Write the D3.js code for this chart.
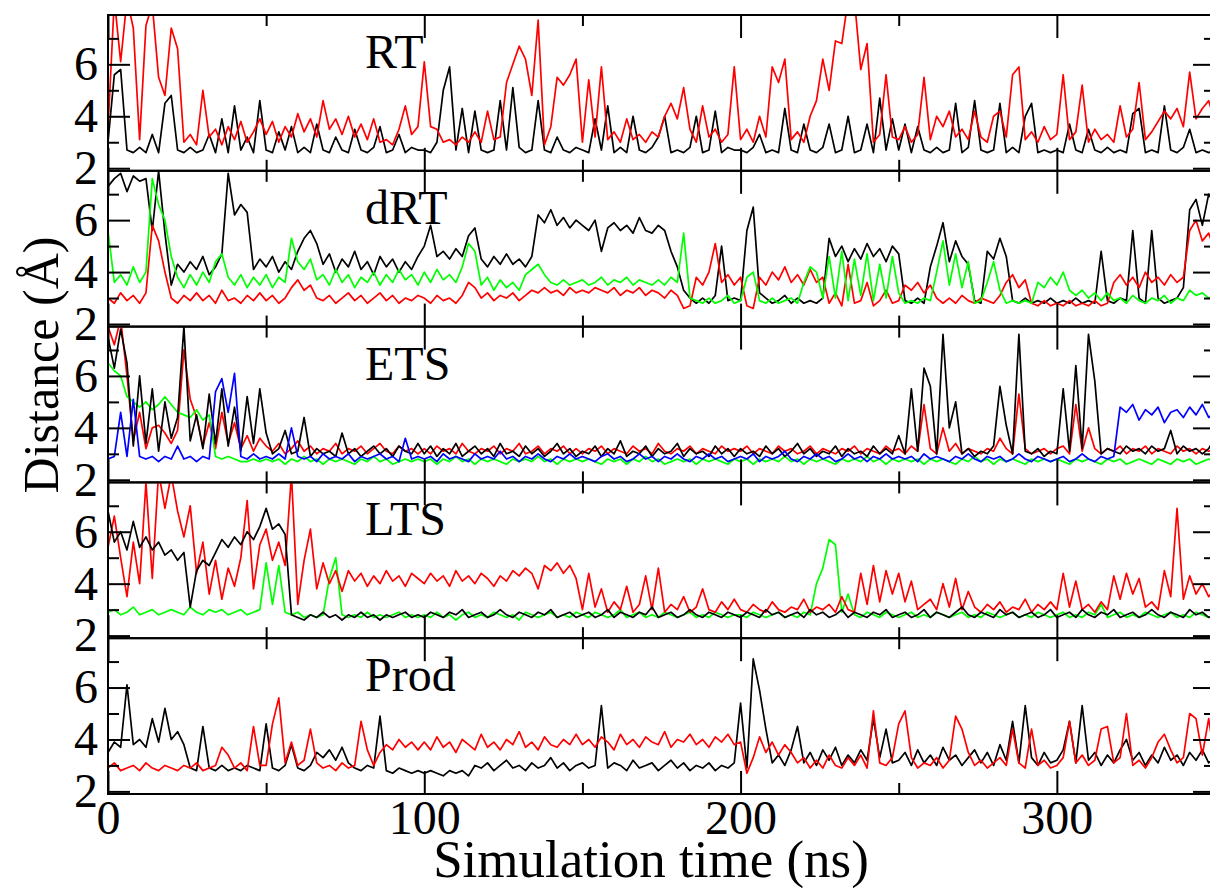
<!DOCTYPE html>
<html><head><meta charset="utf-8">
<script src="https://cdn.jsdelivr.net/npm/d3@7"></script>
<style>body{margin:0;background:#fff}svg{display:block}</style>
</head><body>
<svg id="chart" width="1210" height="892"></svg>
<script>
// sampling interval of all series (ns)
const timeStep = 2;
const xMajorTicks = [0, 100, 200, 300];
const xMinorTicks = [50, 150, 250];
const yMajorTicks = [2, 4, 6];
const yMinorTicks = [3, 5, 7];
const panelLabels = ["RT", "dRT", "ETS", "LTS", "Prod"];

const rtBlack = [3.0,5.6,5.8,2.7,2.6,2.8,2.6,3.3,2.6,4.5,4.8,2.7,2.6,2.8,2.6,2.7,3.3,2.6,3.9,2.6,4.4,2.7,3.2,2.6,4.6,
2.7,2.6,3.4,2.7,3.6,2.6,2.8,2.6,3.7,2.7,2.6,3.2,2.7,2.6,3.5,2.7,2.6,2.8,3.6,2.6,2.7,3.3,2.6,2.8,2.7,
2.7,2.6,3.0,5.0,5.9,2.7,4.3,2.6,4.2,2.7,2.6,2.7,4.6,2.7,5.1,2.8,2.6,2.7,4.6,2.7,2.6,3.2,2.7,2.6,2.8,
2.7,2.6,3.9,2.7,4.4,2.6,2.8,2.6,4.0,2.7,2.6,2.8,3.2,4.0,2.6,2.7,2.6,2.8,4.0,2.6,2.7,4.2,2.6,2.8,2.7,
2.7,2.6,2.8,3.3,2.6,2.7,2.6,4.3,2.7,2.6,3.7,2.7,2.6,2.8,3.7,2.6,2.7,4.0,2.6,2.7,3.7,2.6,4.7,2.7,3.9,
2.7,3.7,2.6,3.6,2.7,2.6,2.8,2.6,2.7,4.5,2.6,2.8,4.6,2.7,2.6,2.7,4.5,2.6,2.8,2.6,4.0,4.5,2.6,2.7,2.6,
2.7,2.6,3.7,2.7,2.6,3.5,2.7,2.6,2.8,2.6,2.7,2.6,4.1,4.3,2.6,2.7,2.6,4.4,2.7,2.6,2.8,3.5,2.6,2.7,2.6,2.7];
const rtRed = [3.5,8.5,6.1,8.5,7.4,3.1,7.5,8.3,5.5,4.8,7.4,6.6,3.0,3.3,2.9,5.0,3.2,3.5,2.9,3.6,3.1,3.8,3.0,3.4,3.9,
3.3,3.8,3.0,3.6,3.2,4.1,3.4,3.9,3.2,4.6,3.5,3.9,3.3,4.0,3.2,3.7,3.1,3.9,3.0,3.1,2.9,3.5,4.4,3.3,3.6,
6.1,3.6,3.5,3.0,3.1,2.9,3.2,3.0,3.4,3.0,4.2,3.1,3.2,5.3,6.0,6.7,6.2,4.8,7.7,2.9,3.6,5.5,5.2,5.6,6.2,
3.0,5.4,3.2,5.9,3.1,3.4,3.0,3.9,3.1,3.3,3.0,3.4,3.2,4.0,4.5,3.9,5.1,3.5,3.0,4.4,3.2,3.5,3.0,3.3,5.9,
3.1,3.5,3.0,4.0,3.2,5.9,5.3,6.2,3.1,3.4,3.0,4.0,4.6,6.2,5.0,6.9,6.8,8.5,8.5,5.8,6.8,3.0,3.3,5.6,3.2,
3.1,3.6,3.0,3.3,5.5,3.1,4.0,3.6,4.2,3.2,3.5,3.1,4.2,3.2,3.0,4.0,4.2,3.2,5.6,5.9,3.1,3.4,3.0,3.6,3.1,
3.3,5.6,3.1,3.4,5.2,3.0,3.5,3.1,3.3,3.0,4.4,3.2,3.5,5.3,3.1,3.4,3.8,4.2,3.9,4.3,3.6,5.7,3.9,4.3,4.6,3.8];

const drtBlack = [7.3,7.6,7.8,7.1,7.7,7.5,7.6,5.6,7.9,5.5,3.5,4.3,4.0,4.4,4.1,4.6,3.9,4.2,4.7,7.8,6.2,6.6,6.3,4.1,4.5,
4.2,4.6,4.0,4.4,4.1,4.8,5.3,5.6,5.1,4.3,4.7,4.0,4.5,4.2,4.8,4.1,4.4,3.9,4.6,4.2,4.5,4.0,4.4,4.1,4.6,
5.0,5.8,4.6,4.8,4.5,4.9,4.6,5.4,5.7,4.5,4.2,4.6,4.3,4.7,4.3,4.5,4.2,4.6,6.2,5.9,6.4,5.8,6.1,5.7,6.0,
5.8,5.6,6.0,4.8,5.7,5.9,5.6,5.8,5.5,6.1,5.6,5.5,5.8,5.6,4.8,4.2,3.3,3.0,2.8,3.0,2.8,3.1,5.0,2.9,3.0,
2.9,5.6,6.5,3.2,3.0,2.8,2.9,3.1,2.8,3.0,2.8,2.9,2.8,3.0,5.3,4.6,5.0,4.4,4.9,4.5,5.1,4.6,4.9,4.4,5.0,
4.7,2.9,2.8,3.0,2.8,4.2,5.0,5.9,4.4,5.2,4.6,4.3,2.9,2.8,4.8,4.5,5.3,4.6,2.9,2.8,3.0,2.8,2.9,2.8,3.0,
2.8,2.9,2.8,3.0,2.8,2.9,2.8,4.8,2.9,2.8,3.0,2.9,5.6,3.0,2.8,5.6,3.0,2.8,2.9,3.0,3.4,6.4,6.8,5.8,7.0,6.6];
const drtRed = [3.0,2.8,3.2,2.9,3.1,2.8,3.2,5.8,5.2,4.0,3.0,2.8,3.1,2.9,3.2,2.9,3.1,2.8,3.3,2.9,3.0,2.8,3.1,2.9,3.2,
2.9,3.1,2.8,3.0,3.4,3.7,3.3,3.5,3.0,2.9,3.1,2.8,3.0,3.2,2.9,3.1,2.8,3.0,3.2,2.9,3.1,2.8,3.0,2.9,3.1,
3.0,2.8,3.1,2.9,3.0,2.8,3.1,3.6,3.4,3.0,3.2,2.9,3.1,3.0,3.2,2.9,3.1,3.3,3.2,3.4,3.2,3.3,3.1,3.4,3.2,
3.3,3.2,3.4,3.3,3.2,3.4,3.1,3.3,3.2,3.4,3.1,3.3,3.2,3.0,3.3,3.1,2.6,2.7,3.8,3.5,4.0,5.1,3.6,3.9,3.5,
3.8,2.7,2.6,3.8,3.5,4.0,3.7,4.2,3.6,3.9,3.5,4.1,3.6,3.8,2.8,3.2,2.7,4.3,2.8,2.9,3.6,2.7,2.9,3.3,2.8,
2.9,3.5,3.3,3.6,3.2,3.5,3.0,2.8,3.0,2.8,3.1,2.9,2.8,3.0,2.9,2.8,3.1,3.6,3.9,3.4,3.7,2.8,2.7,2.9,2.7,
2.8,2.7,2.9,2.7,2.8,2.7,2.9,2.7,2.8,3.6,3.9,3.5,3.8,3.4,4.0,3.6,3.8,3.5,3.9,3.6,3.8,5.6,6.0,5.2,5.5,4.8];
const drtGreen = [5.6,3.6,3.9,3.5,4.2,3.6,4.0,7.6,6.6,6.0,4.6,3.8,3.4,3.9,3.5,4.0,3.6,4.4,4.7,3.8,3.5,3.9,3.4,3.8,3.5,
3.9,3.4,3.8,3.6,5.3,4.4,4.1,4.5,3.7,3.9,3.5,4.1,3.6,3.9,3.4,3.8,3.6,4.0,3.5,3.9,3.6,4.1,3.7,3.9,3.5,
4.0,3.6,4.1,3.7,3.9,3.6,4.2,5.1,4.8,3.5,3.8,3.3,3.7,3.4,3.6,3.3,3.9,4.1,4.3,3.9,3.6,3.5,3.7,3.5,3.6,
3.7,3.5,3.6,3.8,3.5,3.7,3.6,3.8,3.5,3.7,3.6,3.5,3.7,3.5,3.8,3.6,5.5,3.0,2.9,2.8,3.0,2.8,2.9,3.1,2.8,
2.9,3.8,4.0,2.9,2.8,3.0,2.8,2.9,3.0,2.8,3.6,4.2,4.0,3.0,4.6,3.0,4.8,2.9,4.5,3.1,4.7,2.9,4.3,3.0,4.6,
3.2,2.8,2.9,2.8,3.0,2.9,4.0,5.2,3.5,4.7,3.4,4.4,2.8,2.9,3.6,4.4,3.3,2.8,2.9,2.8,2.9,2.8,3.6,3.4,3.8,
3.5,4.0,3.3,3.1,3.3,3.0,3.2,2.9,3.2,2.9,3.0,2.8,3.1,2.9,2.8,3.0,2.9,3.1,2.8,3.0,2.9,3.3,3.1,3.2,3.0,3.1];

const etsBlack = [7.5,6.3,7.8,6.5,3.3,6.0,3.4,5.5,3.1,5.0,3.6,4.4,7.9,3.5,4.5,3.2,5.3,3.4,5.5,3.3,4.8,3.1,5.2,3.4,5.5,
3.8,3.0,3.2,3.9,3.0,3.1,4.4,2.9,3.2,3.0,3.1,2.9,3.8,3.0,3.2,2.9,3.1,3.3,3.0,3.2,2.9,3.3,3.1,3.0,3.4,
3.0,3.3,2.9,3.2,3.0,3.4,2.9,3.1,3.3,3.0,3.2,2.9,3.4,3.0,3.1,2.9,3.3,3.0,3.2,2.9,3.1,3.4,3.0,3.2,2.9,
3.1,3.0,3.3,2.9,3.2,3.0,3.5,2.9,3.1,3.0,3.3,2.9,3.2,3.0,3.1,3.4,2.9,3.2,3.0,3.1,2.9,3.3,3.0,3.2,2.9,
3.2,3.0,3.1,2.9,3.3,3.0,3.2,2.9,3.1,3.4,3.0,3.2,2.9,3.1,3.0,3.3,2.9,3.2,3.0,3.1,2.9,3.3,3.0,3.2,3.0,
3.7,3.0,5.5,3.1,6.3,5.6,3.0,7.6,4.0,5.0,3.0,3.2,2.9,3.1,3.0,3.3,5.6,4.1,3.0,7.6,3.1,3.0,3.2,2.9,3.1,
3.0,5.5,3.1,6.4,3.2,7.6,5.8,3.0,3.2,3.1,3.0,3.3,3.1,3.2,3.0,3.3,3.1,3.2,3.9,3.0,3.3,3.1,3.2,3.0,3.2,3.6];
const etsRed = [7.9,7.2,8.2,6.0,3.5,4.6,3.2,4.0,4.1,3.8,3.4,3.9,7.0,5.1,4.4,3.3,4.2,3.2,4.6,3.4,4.2,3.2,3.7,3.1,3.6,
3.3,3.1,3.4,3.0,3.2,3.5,3.1,3.3,3.0,3.2,3.1,3.4,3.0,3.2,3.1,3.3,3.0,3.2,3.4,3.1,3.0,3.3,3.1,3.2,3.0,
3.2,3.0,3.3,3.1,3.2,3.0,3.4,3.1,3.0,3.2,3.1,3.3,3.0,3.2,3.1,3.4,3.0,3.1,3.3,3.0,3.2,3.1,3.3,3.0,3.2,
3.0,3.2,3.1,3.3,3.0,3.2,3.1,3.0,3.3,3.1,3.2,3.0,3.4,3.1,3.0,3.2,3.1,3.3,3.0,3.2,3.1,3.0,3.3,3.1,3.2,
3.1,3.3,3.0,3.2,3.1,3.0,3.3,3.1,3.2,3.0,3.1,3.3,3.0,3.2,3.1,3.0,3.2,3.1,3.3,3.0,3.2,3.1,3.0,3.3,3.1,
3.2,3.0,3.3,3.1,4.9,3.2,3.0,4.0,3.1,3.4,3.0,3.2,3.1,3.0,3.2,3.1,3.6,3.2,3.0,5.3,3.2,3.0,3.1,3.2,3.0,
3.2,3.3,3.0,4.9,3.1,4.0,3.2,3.0,3.2,3.1,3.3,3.0,3.2,3.1,3.3,3.0,3.2,3.1,3.0,3.3,3.1,3.2,3.0,3.2,3.1,3.2];
const etsGreen = [6.5,6.2,6.0,5.2,5.0,4.8,5.0,4.7,4.9,5.2,4.9,4.6,4.5,4.4,4.7,4.3,4.5,2.9,2.8,2.9,2.8,2.7,2.7,2.8,2.7,
2.8,2.7,2.8,2.6,2.8,2.7,2.9,2.7,2.8,2.6,2.8,2.7,2.8,2.7,2.6,2.8,2.7,2.9,2.7,2.8,2.6,2.7,2.8,2.7,2.8,
2.7,2.8,2.6,2.8,2.7,2.9,2.7,2.8,2.6,2.8,2.7,2.8,2.7,2.6,2.8,2.7,2.8,2.7,2.9,2.7,2.8,2.6,2.8,2.7,2.8,
2.7,2.8,2.7,2.6,2.8,2.7,2.8,2.6,2.8,2.7,2.9,2.7,2.8,2.6,2.7,2.8,2.7,2.8,2.6,2.8,2.7,2.8,2.7,2.6,2.8,
2.7,2.8,2.6,2.8,2.7,2.8,2.7,2.9,2.7,2.8,2.6,2.8,2.7,2.8,2.7,2.6,2.8,2.7,2.8,2.7,2.9,2.7,2.8,2.6,2.8,
2.7,2.8,2.7,2.8,2.6,2.8,2.7,2.8,2.7,2.6,2.8,2.7,2.9,2.7,2.8,2.6,2.8,2.7,2.8,2.7,2.6,2.8,2.7,2.8,2.7,
2.8,2.7,2.6,2.8,2.7,2.8,2.7,2.6,2.8,2.7,2.8,2.6,2.7,2.8,2.7,2.6,2.8,2.7,2.6,2.8,2.7,2.8,2.6,2.7,2.8,2.7];
const etsBlue = [2.8,2.9,4.6,2.9,5.1,2.9,2.8,2.9,2.7,2.9,2.8,3.3,2.8,2.9,2.7,2.9,2.8,5.4,5.9,4.6,6.1,2.9,2.8,3.0,2.8,
2.9,2.8,3.0,2.8,4.0,2.9,2.8,2.9,2.7,3.0,2.8,2.9,2.8,3.0,2.7,2.9,2.8,2.9,3.0,2.8,2.9,2.7,3.6,2.8,2.9,
2.8,2.9,2.7,3.0,2.8,2.9,2.8,2.7,3.0,2.8,2.9,2.8,3.1,2.8,2.9,2.7,2.9,2.8,3.0,2.8,2.7,2.9,2.8,3.0,2.8,
2.9,2.8,2.7,2.9,3.0,2.8,2.9,2.7,2.8,3.0,2.8,2.9,2.7,2.9,2.8,3.0,2.8,2.7,2.9,2.8,3.0,2.8,2.9,2.7,2.8,
2.9,2.8,3.0,2.7,2.9,2.8,2.9,3.1,2.8,2.7,2.9,2.8,3.0,2.8,2.9,2.7,2.8,3.0,2.8,2.9,2.7,2.9,2.8,3.0,2.8,
2.9,2.8,2.9,2.7,3.0,2.8,2.9,2.8,2.7,2.9,2.8,3.0,2.8,2.7,2.9,2.8,2.9,2.7,2.8,3.0,2.8,2.7,2.9,2.8,2.7,
2.8,2.9,2.7,2.8,3.0,2.8,2.7,2.9,2.8,2.9,4.8,4.6,4.9,4.3,4.7,4.5,4.8,4.2,4.6,4.7,4.4,4.8,4.5,4.9,4.4,4.6];

const ltsBlack = [6.8,5.6,6.0,5.3,6.4,5.4,5.8,5.3,5.6,5.1,5.3,4.9,5.2,3.1,4.5,4.9,4.7,5.2,5.7,5.4,5.8,5.5,6.0,5.7,6.2,
6.9,6.1,6.3,5.9,2.8,2.7,2.6,2.8,2.7,2.9,2.7,2.8,2.6,2.8,2.7,2.9,2.7,2.8,2.6,2.8,2.7,2.8,2.9,2.7,2.8,
2.7,2.9,2.8,2.7,2.9,2.8,3.0,2.7,2.8,2.9,2.7,2.8,3.0,2.8,2.7,2.9,2.8,2.7,2.9,2.8,3.0,2.7,2.8,2.9,2.7,
2.8,2.9,2.7,2.8,3.0,2.7,2.9,2.8,2.7,2.9,2.8,3.1,2.7,2.8,2.9,2.7,2.8,3.0,2.8,2.7,2.9,2.8,2.7,2.9,2.8,
2.7,2.9,2.8,2.7,3.0,2.8,2.9,2.7,2.8,2.9,2.7,3.0,2.8,2.9,2.7,2.8,3.0,2.7,2.9,2.8,2.7,2.9,2.8,3.0,2.7,
2.8,2.9,2.7,2.8,3.0,2.7,2.9,2.8,2.7,2.9,3.1,2.8,2.7,2.9,2.8,2.7,3.0,2.8,2.9,2.7,2.8,2.9,2.7,2.8,3.0,
2.7,2.8,2.9,2.7,3.0,2.8,2.7,2.9,2.8,3.0,2.7,2.8,2.9,2.7,2.8,3.0,2.8,2.7,2.9,2.8,2.7,3.0,2.8,2.9,2.7,2.8];
const ltsRed = [5.4,6.6,5.0,3.5,5.6,4.0,7.9,4.2,8.3,6.9,8.2,6.8,5.8,7.0,4.4,5.6,3.6,4.9,3.4,4.6,3.9,5.0,7.2,3.8,5.5,
6.1,4.9,5.6,4.7,8.2,3.2,4.9,6.1,3.8,4.8,4.0,4.5,3.7,4.5,4.1,4.4,3.9,4.3,4.0,4.5,4.1,4.3,3.9,4.4,4.2,
4.0,4.4,4.1,4.3,3.9,4.5,4.1,4.3,4.0,4.4,4.2,3.9,4.3,4.1,4.5,4.3,4.6,4.4,3.8,4.7,4.5,4.8,4.4,4.7,4.2,
3.0,4.4,3.1,3.8,2.9,3.3,3.0,3.9,2.9,3.2,4.3,3.0,4.6,2.9,3.2,3.0,3.5,2.9,3.1,3.8,3.0,2.9,3.3,3.0,3.4,
3.0,2.9,3.2,3.0,2.9,3.3,3.0,2.9,3.1,3.0,3.4,2.9,3.1,3.0,3.2,2.9,3.5,3.0,2.9,4.4,3.2,4.7,3.3,4.5,3.6,
4.4,3.3,4.1,3.0,3.2,3.4,3.0,4.0,3.1,4.2,3.0,3.7,3.1,2.9,3.2,3.0,3.3,2.9,3.1,3.0,3.4,2.9,3.2,3.0,3.3,
3.0,4.4,3.1,4.1,3.0,3.2,2.9,3.3,3.0,4.3,3.4,4.4,3.6,4.2,3.1,3.3,3.0,4.5,3.5,6.9,3.4,4.3,3.6,4.0,3.5,3.8];
const ltsGreen = [2.9,3.0,2.8,2.9,3.1,2.8,2.9,3.0,2.8,2.9,3.0,2.9,2.8,3.1,2.9,2.8,3.0,2.9,3.0,2.8,2.9,3.0,2.8,2.9,3.0,
4.8,3.2,4.7,2.9,2.8,2.9,2.7,2.8,2.7,2.8,4.2,5.0,2.8,2.7,2.8,2.7,2.9,2.7,2.8,2.7,2.8,2.9,2.7,2.8,2.7,
2.8,2.7,2.9,2.7,2.8,2.6,2.8,2.9,2.7,2.8,2.7,2.9,2.8,2.7,2.8,2.6,2.9,2.8,2.7,2.8,2.9,2.7,2.8,2.7,2.9,
2.8,2.7,2.9,2.8,2.7,2.8,3.0,2.7,2.8,2.9,2.7,2.8,2.7,2.9,2.8,2.7,2.8,2.9,2.7,2.8,2.7,2.9,2.8,2.7,2.8,
2.8,2.7,2.9,2.8,2.7,2.8,2.9,2.7,2.8,2.7,2.9,2.8,4.0,4.6,5.7,5.5,2.9,3.6,2.8,2.7,2.9,2.8,2.7,2.9,2.8,
2.7,2.8,2.9,2.7,2.8,2.7,2.9,2.8,2.7,2.8,2.9,2.7,2.8,2.7,2.9,2.8,2.7,2.8,2.9,2.7,2.8,2.7,2.9,2.8,2.7,
2.8,2.9,2.7,2.8,2.7,2.9,2.8,3.2,2.7,2.8,2.9,2.7,2.8,2.7,2.9,2.8,2.7,2.8,2.9,2.7,2.8,2.7,2.9,2.8,2.7,2.8];

const prodBlack = [3.5,3.9,3.7,6.1,3.8,4.0,3.7,4.8,3.9,5.2,4.0,4.3,3.8,2.9,2.8,4.5,2.9,2.8,3.0,2.8,2.9,2.8,3.0,2.9,2.8,
4.6,2.9,2.8,3.0,3.8,2.9,2.8,3.0,3.5,3.3,3.6,3.2,3.7,3.1,2.9,2.8,3.0,2.9,4.9,2.8,2.7,2.9,2.8,2.7,2.8,
2.7,2.8,2.7,2.6,2.8,2.7,2.8,2.6,3.0,2.9,3.1,2.8,3.0,3.2,2.9,3.0,2.8,3.1,2.9,3.0,3.3,2.9,3.1,2.8,3.0,
3.1,2.9,3.0,5.3,2.9,3.1,3.0,2.8,3.2,2.9,3.0,3.1,2.8,3.0,3.2,2.9,3.1,2.8,3.0,2.9,3.1,2.8,3.0,2.9,3.1,
5.4,2.9,7.1,5.9,4.4,3.1,3.4,3.0,3.6,4.5,3.1,3.5,3.0,3.6,3.2,3.7,3.0,3.4,3.1,3.6,3.2,4.8,3.3,4.4,3.1,
3.2,3.5,3.0,3.6,3.1,3.4,3.0,3.7,3.2,3.4,3.0,3.3,3.6,3.1,3.5,3.0,3.8,3.2,4.7,3.1,5.3,3.3,3.0,3.5,3.1,
3.2,3.6,4.7,3.1,5.3,3.2,3.5,3.0,3.4,3.1,3.6,4.0,3.2,3.5,3.0,3.4,3.1,3.7,3.2,3.4,3.0,3.5,3.2,3.6,3.1,3.3];
const prodRed = [2.9,3.1,2.8,2.9,3.0,2.8,3.1,2.9,2.8,3.0,2.9,2.8,3.0,2.9,3.1,2.8,2.9,3.0,3.7,3.4,2.9,3.1,2.8,4.5,3.0,
3.0,4.6,5.6,3.1,3.9,3.0,3.2,4.4,3.1,2.9,3.0,2.8,3.1,2.9,3.0,4.7,3.6,3.0,3.5,3.8,3.6,4.0,3.7,3.9,3.6,
3.9,3.6,4.1,3.7,3.9,3.5,4.0,3.8,3.6,4.2,3.7,3.9,3.6,4.0,3.8,4.3,3.7,3.9,3.6,4.1,3.8,3.7,4.0,3.8,4.2,
3.8,4.0,3.7,4.1,3.9,3.6,4.2,3.8,4.0,3.7,4.1,3.9,3.8,4.3,3.7,4.0,3.9,4.2,3.8,4.0,3.7,4.1,3.9,4.2,3.8,
3.9,2.7,3.3,4.1,3.5,3.9,3.4,3.8,3.5,3.1,3.3,2.9,3.2,2.9,3.4,3.0,2.9,3.3,3.0,3.4,2.9,5.1,3.1,3.0,3.3,
4.6,5.1,3.3,2.9,3.1,3.0,3.3,2.9,3.2,4.9,4.4,3.5,3.0,3.2,2.9,3.1,3.3,3.0,4.4,3.1,2.9,4.4,3.0,3.2,2.9,
3.0,3.3,4.7,3.1,3.4,3.0,3.2,4.4,4.5,3.1,3.3,5.0,3.0,3.2,2.9,3.3,3.9,4.2,3.6,3.1,3.3,5.0,4.8,3.4,4.8,3.2];

const BLACK = "#000000", RED = "#ff0000", GREEN = "#00ff00", BLUE = "#0000ff";
// drawing order inside each panel (last drawn on top)
const panelSeries = [
  [[rtBlack, BLACK], [rtRed, RED]],
  [[drtBlack, BLACK], [drtRed, RED], [drtGreen, GREEN]],
  [[etsRed, RED], [etsGreen, GREEN], [etsBlack, BLACK], [etsBlue, BLUE]],
  [[ltsGreen, GREEN], [ltsRed, RED], [ltsBlack, BLACK]],
  [[prodBlack, BLACK], [prodRed, RED]]
];

const FONT = "'Liberation Serif','Times New Roman',Times,serif";
const plotLeft = 108, plotRight = 1215, plotTop = 15, panelH = 155.8;
const svg = d3.select("#chart");
const x = d3.scaleLinear().domain([0, 350]).range([plotLeft, plotRight]);
const defs = svg.append("defs");

panelLabels.forEach((label, i) => {
  const top = plotTop + i * panelH, bottom = top + panelH;
  const y = d3.scaleLinear().domain([1.9, 7.9]).range([bottom, top]);
  const g = svg.append("g");
  defs.append("clipPath").attr("id", "clip" + i).append("rect")
    .attr("x", plotLeft).attr("y", top).attr("width", plotRight - plotLeft).attr("height", panelH);
  const line = d3.line().x((d, j) => x(j * timeStep)).y(d => y(d));
  const lines = g.append("g").attr("clip-path", `url(#clip${i})`);
  panelSeries[i].forEach(([vals, col]) => {
    lines.append("path").datum(vals).attr("fill", "none").attr("stroke", col)
      .attr("stroke-width", 1.7).attr("stroke-linejoin", "round").attr("d", line);
  });

  const axes = g.append("g");
  const addAxis = (axis, tx, ty, labels) => {
    const a = axes.append("g").attr("transform", `translate(${tx},${ty})`).call(axis);
    a.select(".domain").remove();
    a.selectAll("line").attr("stroke", "#000").attr("stroke-width", 2);
    a.selectAll("text").attr("font-family", FONT).attr("font-size", 48).attr("fill", "#000");
    if (!labels) a.selectAll("text").remove();
    return a;
  };
  // left
  addAxis(d3.axisLeft(y).tickValues(yMajorTicks).tickSize(-22).tickPadding(10).tickFormat(d3.format("d")), plotLeft, 0, true);
  addAxis(d3.axisLeft(y).tickValues(yMinorTicks).tickSize(-11), plotLeft, 0, false);
  // right
  addAxis(d3.axisRight(y).tickValues(yMajorTicks).tickSize(-22), plotRight, 0, false);
  addAxis(d3.axisRight(y).tickValues(yMinorTicks).tickSize(-11), plotRight, 0, false);
  // top
  addAxis(d3.axisTop(x).tickValues(xMajorTicks).tickSize(-23), 0, top, false);
  addAxis(d3.axisTop(x).tickValues(xMinorTicks).tickSize(-11), 0, top, false);
  // bottom
  const last = i === panelLabels.length - 1;
  addAxis(d3.axisBottom(x).tickValues(xMajorTicks).tickSize(-23).tickPadding(6).tickFormat(d3.format("d")), 0, bottom, last);
  addAxis(d3.axisBottom(x).tickValues(xMinorTicks).tickSize(-11), 0, bottom, false);

  g.append("rect").attr("x", plotLeft).attr("y", top).attr("width", plotRight - plotLeft).attr("height", panelH)
    .attr("fill", "none").attr("stroke", "#000").attr("stroke-width", 2);

  g.append("text").attr("x", 365).attr("y", top + 53).attr("font-family", FONT).attr("font-size", 48)
    .attr("fill", "#000").text(label);
});

svg.append("text").attr("x", 651).attr("y", 877).attr("text-anchor", "middle")
  .attr("font-family", FONT).attr("font-size", 53).attr("fill", "#000").text("Simulation time (ns)");
svg.append("text").attr("transform", "translate(58,365) rotate(-90)").attr("text-anchor", "middle")
  .attr("font-family", FONT).attr("font-size", 50).attr("fill", "#000").text("Distance (Å)");
</script>
</body></html>
